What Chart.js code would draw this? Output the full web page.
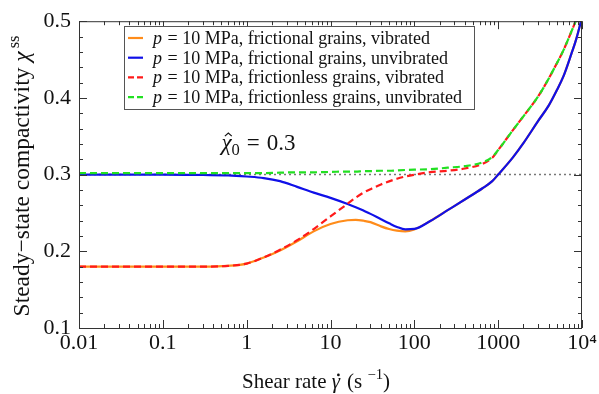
<!DOCTYPE html>
<html>
<head>
<meta charset="utf-8">
<script src="https://cdn.jsdelivr.net/npm/chart.js@4.4.0/dist/chart.umd.min.js"></script>
<style>
  body { margin: 0; background: #fff; }
  canvas { display: block; }
</style>
</head>
<body>
<canvas id="chart" width="599" height="394"></canvas>
<script>
// shear rates (s^-1) and steady-state compactivity
const rates = [0.01, 0.1, 0.3, 0.6, 1, 1.6, 2.5, 4, 6.3, 10, 16, 20, 25, 30, 40, 50, 62, 78, 100, 155, 250, 400, 650, 850, 1000, 1500, 2000, 3000, 4000, 5000, 6000, 7500, 8500, 10000];
const frictionalVibrated = [0.180, 0.180, 0.180, 0.181, 0.184, 0.192, 0.201, 0.213, 0.226, 0.2355, 0.2405, 0.241, 0.2398, 0.238, 0.2325, 0.229, 0.2269, 0.226, 0.2286, 0.2395, 0.2536, 0.2675, 0.2822, 0.2915, 0.300, 0.3225, 0.341, 0.370, 0.390, 0.410, 0.428, 0.458, 0.476, 0.505];
const frictionalUnvibrated = [0.300, 0.300, 0.2995, 0.299, 0.2975, 0.2955, 0.2915, 0.284, 0.2765, 0.2697, 0.2617, 0.2575, 0.2528, 0.2488, 0.2418, 0.2365, 0.2318, 0.2286, 0.2292, 0.2395, 0.2536, 0.2675, 0.2822, 0.2915, 0.300, 0.3225, 0.341, 0.370, 0.390, 0.410, 0.428, 0.458, 0.476, 0.505];
const frictionlessVibrated = [0.180, 0.180, 0.180, 0.181, 0.184, 0.192, 0.202, 0.2145, 0.229, 0.2455, 0.262, 0.270, 0.2768, 0.281, 0.2872, 0.2912, 0.2946, 0.2975, 0.2998, 0.3032, 0.305, 0.308, 0.314, 0.322, 0.332, 0.358, 0.376, 0.402, 0.425, 0.445, 0.462, 0.487, 0.502, 0.530];
const frictionlessUnvibrated = [0.302, 0.302, 0.302, 0.302, 0.302, 0.302, 0.3025, 0.303, 0.303, 0.3035, 0.304, 0.304, 0.3045, 0.3045, 0.305, 0.305, 0.3055, 0.306, 0.3065, 0.307, 0.309, 0.311, 0.316, 0.323, 0.332, 0.358, 0.376, 0.402, 0.425, 0.445, 0.462, 0.487, 0.502, 0.530];
const chiHat0 = 0.3;

const seriesLabels = [
  "frictional grains, vibrated",
  "frictional grains, unvibrated",
  "frictionless grains, vibrated",
  "frictionless grains, unvibrated"
];

const xTicks = [0.01, 0.1, 1, 10, 100, 1000, 10000];
const xTickLabels = ["0.01", "0.1", "1", "10", "100", "1000", "10⁴"];
const yTicks = [0.1, 0.2, 0.3, 0.4, 0.5];

const serif = "'Liberation Serif', 'Times New Roman', serif";

function pts(ys) {
  return rates.map((x, i) => ({ x: x, y: ys[i] }));
}

function line(label, ys, color, dash, order) {
  return {
    label: label,
    data: pts(ys),
    borderColor: color,
    backgroundColor: color,
    borderWidth: 2.2,
    borderDash: dash,
    pointRadius: 0,
    cubicInterpolationMode: "monotone",
    order: order
  };
}

// draw text made of pieces (italic, superscript, subscript, accent on top)
function drawRich(ctx, parts, x, y, size, align) {
  let total = 0;
  parts.forEach((p) => {
    const s = size * (p.scale || 1);
    ctx.font = (p.italic ? "italic " : "") + s + "px " + serif;
    p.w = ctx.measureText(p.text).width;
    total += p.w + (p.gap || 0);
  });
  let cx = align === "center" ? x - total / 2 : x;
  parts.forEach((p) => {
    const s = size * (p.scale || 1);
    ctx.font = (p.italic ? "italic " : "") + s + "px " + serif;
    ctx.textAlign = "left";
    ctx.textBaseline = "alphabetic";
    ctx.fillText(p.text, cx, y + (p.dy || 0));
    const mid = cx + p.w / 2 + (p.italic ? s * 0.08 : 0);
    if (p.accent === "dot") {
      ctx.beginPath();
      ctx.arc(mid + s * 0.04, y - s * 0.62, s * 0.065, 0, Math.PI * 2);
      ctx.fill();
    } else if (p.accent === "hat") {
      ctx.save();
      ctx.lineWidth = s * 0.05;
      ctx.strokeStyle = ctx.fillStyle;
      ctx.beginPath();
      ctx.moveTo(mid - s * 0.15, y - s * 0.6);
      ctx.lineTo(mid + s * 0.0, y - s * 0.74);
      ctx.lineTo(mid + s * 0.15, y - s * 0.6);
      ctx.stroke();
      ctx.restore();
    }
    cx += p.w + (p.gap || 0);
  });
  return total;
}

const decorPlugin = {
  id: "decor",
  afterDatasetsDraw(chart) {
    const ctx = chart.ctx;
    const a = chart.chartArea;
    const xs = chart.scales.x;
    const ys = chart.scales.y;
    ctx.save();
    // frame
    ctx.strokeStyle = "#333";
    ctx.lineWidth = 1;
    ctx.setLineDash([]);
    ctx.strokeRect(a.left + 0.5, a.top + 0.5, a.right - a.left - 1, a.bottom - a.top);

    // x tick marks, top and bottom, inward
    ctx.beginPath();
    for (let e = -2; e <= 4; e++) {
      for (let k = 1; k <= 9; k++) {
        const v = k * Math.pow(10, e);
        if (v > 10000) break;
        const px = Math.round(xs.getPixelForValue(v)) + 0.5;
        const len = k === 1 ? 8 : 4;
        ctx.moveTo(px, a.bottom);
        ctx.lineTo(px, a.bottom - len);
        ctx.moveTo(px, a.top);
        ctx.lineTo(px, a.top + len);
      }
    }
    // y tick marks, left and right
    for (let i = 0; i <= 20; i++) {
      const v = 0.1 + i * 0.02;
      const py = Math.round(ys.getPixelForValue(v)) + 0.5;
      const len = i % 5 === 0 ? 8 : 4;
      ctx.moveTo(a.left, py);
      ctx.lineTo(a.left + len, py);
      ctx.moveTo(a.right, py);
      ctx.lineTo(a.right - len, py);
    }
    ctx.stroke();

    // annotation
    ctx.fillStyle = "#111";
    drawRich(ctx, [
      { text: "χ", italic: true, accent: "hat" },
      { text: "0", scale: 0.72, dy: 5, gap: 7 },
      { text: "=", gap: 7 },
      { text: "0.3" }
    ], xs.getPixelForValue(0.5), 150, 23, "left");

    // legend
    const lx = 124, ly = 26, lw = 350, lh = 83;
    ctx.fillStyle = "#fff";
    ctx.fillRect(lx, ly, lw, lh);
    ctx.strokeStyle = "#555";
    ctx.lineWidth = 1;
    ctx.strokeRect(lx + 0.5, ly + 0.5, lw, lh);
    [0, 1, 2, 3].forEach((i) => {
      const ds = chart.data.datasets[i];
      const y = 38 + i * 19.7;
      ctx.strokeStyle = ds.borderColor;
      ctx.lineWidth = 2.2;
      ctx.setLineDash(ds.borderDash.length ? [6, 3] : []);
      ctx.beginPath();
      ctx.moveTo(128, y);
      ctx.lineTo(143, y);
      ctx.stroke();
      ctx.setLineDash([]);
      ctx.fillStyle = "#111";
      drawRich(ctx, [
        { text: "p", italic: true, gap: 1 },
        { text: " = 10 MPa, " + ds.label }
      ], 153, y + 6, 18, "left");
    });

    // axis titles
    ctx.fillStyle = "#111";
    drawRich(ctx, [
      { text: "Shear rate " },
      { text: "γ", italic: true, accent: "dot", gap: 7 },
      { text: "(s " },
      { text: "−1", scale: 0.7, dy: -9 },
      { text: ")" }
    ], 316, 388, 21, "center");

    ctx.translate(29, 176);
    ctx.rotate(-Math.PI / 2);
    drawRich(ctx, [
      { text: "Steady−state compactivity " },
      { text: "χ", italic: true, gap: 3 },
      { text: "ss", scale: 0.7, dy: -10 }
    ], 0, 0, 23.5, "center");
    ctx.restore();
  }
};

const config = {
  type: "line",
  data: {
    datasets: [
      line(seriesLabels[0], frictionalVibrated, "#ff8c1a", [], 4),
      line(seriesLabels[1], frictionalUnvibrated, "#1010e8", [], 3),
      line(seriesLabels[2], frictionlessVibrated, "#ff1a1a", [7, 4], 2),
      line(seriesLabels[3], frictionlessUnvibrated, "#22e022", [7, 4], 1),
      {
        label: "reference",
        data: [{ x: 0.01, y: chiHat0 }, { x: 10000, y: chiHat0 }],
        borderColor: "#777",
        borderWidth: 1.5,
        borderDash: [2, 3],
        pointRadius: 0,
        order: 5
      }
    ]
  },
  options: {
    responsive: false,
    animation: false,
    devicePixelRatio: 1,
    layout: { padding: { left: 0, top: 17, right: 17, bottom: 0 } },
    plugins: {
      legend: { display: false },
      tooltip: { enabled: false }
    },
    scales: {
      x: {
        type: "logarithmic",
        min: 0.01,
        max: 10000,
        grid: { display: false, drawTicks: false },
        border: { display: false },
        afterBuildTicks: (scale) => {
          scale.ticks = xTicks.map((v) => ({ value: v }));
        },
        afterFit: (scale) => { scale.height = 66; },
        ticks: {
          autoSkip: false,
          maxRotation: 0,
          padding: 2,
          color: "#111",
          font: { family: serif, size: 22 },
          callback: (v) => {
            const i = xTicks.indexOf(v);
            return i >= 0 ? xTickLabels[i] : "";
          }
        }
      },
      y: {
        min: 0.1,
        max: 0.5,
        grid: { display: false, drawTicks: false },
        border: { display: false },
        afterBuildTicks: (scale) => {
          scale.ticks = yTicks.map((v) => ({ value: v }));
        },
        afterFit: (scale) => { scale.width = 79; },
        ticks: {
          padding: 8,
          color: "#111",
          font: { family: serif, size: 22 },
          callback: (v) => v.toFixed(1)
        }
      }
    }
  },
  plugins: [decorPlugin]
};

new Chart(document.getElementById("chart"), config);
</script>
</body>
</html>
